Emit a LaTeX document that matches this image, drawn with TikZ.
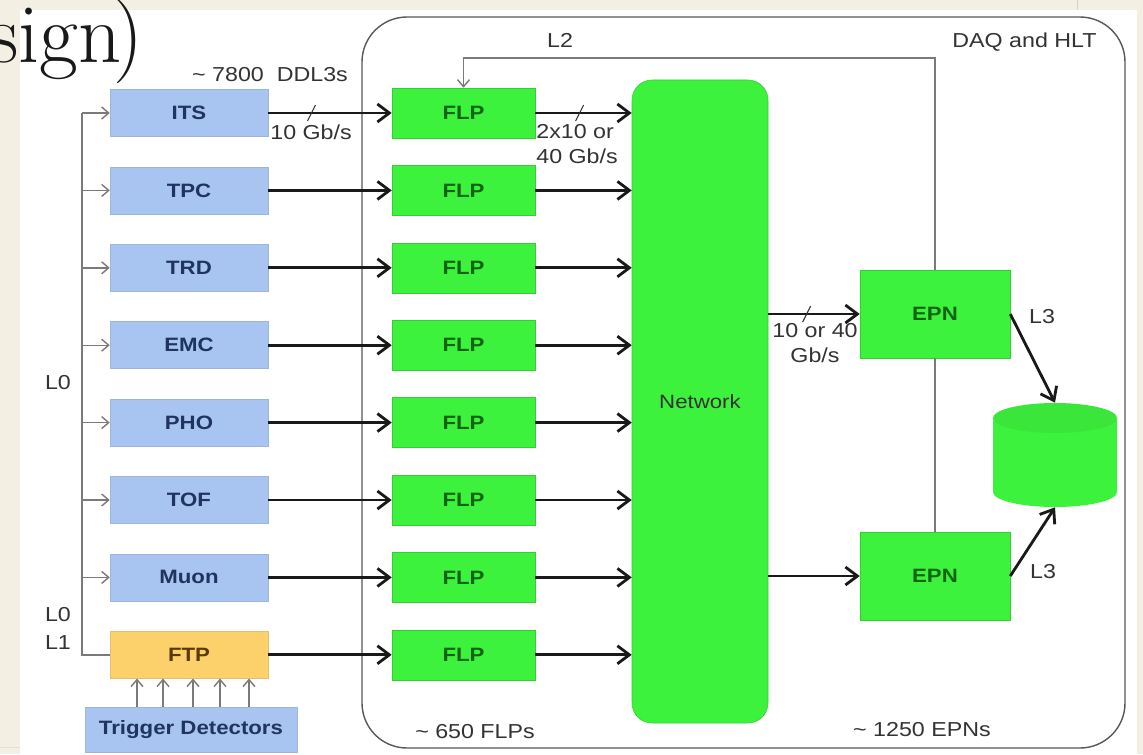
\documentclass[tikz,border=0pt]{standalone}
\usepackage{fontspec}
\newfontfamily\diagfont[FakeStretch=1.15]{Liberation Sans}
\usepackage{tikz}
\usetikzlibrary{calc,positioning,arrows.meta}

\definecolor{slidebg}{HTML}{F3EFE3}
\definecolor{detblue}{HTML}{A8C4F0}
\definecolor{dettext}{HTML}{1F3560}
\definecolor{ftporange}{HTML}{FCD06A}
\definecolor{ftptext}{HTML}{5A3B05}
\definecolor{flpgreen}{HTML}{3CF23C}
\definecolor{flptext}{HTML}{126412}
\definecolor{trigline}{HTML}{7A7A7A}
\definecolor{labeltext}{HTML}{333333}

\tikzset{
  detbox/.style={fill=detblue, draw=detblue!80!gray, line width=0.3pt, minimum width=31.6mm, minimum height=9.4mm, inner sep=0pt, text=dettext, font=\diagfont\bfseries\fontsize{11}{14}\selectfont},
  ftpbox/.style={detbox, fill=ftporange, draw=ftporange!80!gray, text=ftptext},
  flpbox/.style={fill=flpgreen, draw=flpgreen!85!black, line width=0.3pt, minimum width=28.6mm, minimum height=10mm, inner sep=0pt, text=flptext, font=\diagfont\bfseries\fontsize{11}{14}\selectfont},
  epnbox/.style={flpbox, minimum width=30mm, minimum height=17.6mm},
  netbox/.style={flpbox, minimum width=27.2mm, minimum height=128.6mm, rounded corners=4mm, text=black!80, font=\diagfont\fontsize{11}{14}\selectfont},
  lbl/.style={text=labeltext, inner sep=0pt},
  datalink/.style={line width=1.6pt, black!90, -{Straight Barb[length=2.4mm,width=3.6mm,line width=1.6pt]}},
  triglink/.style={line width=0.8pt, trigline, -{Straight Barb[length=1.4mm,width=2.4mm]}},
  rateslash/.style={line width=0.6pt, black!80}
}

\begin{document}
\begin{tikzpicture}[x=0.2mm,y=-0.2mm,font=\diagfont\fontsize{11.5}{14.5}\selectfont]
				%\draw[color=gray,step=10, help lines,opacity=0.3] (0,0) grid (1143,754); %help grids
				\useasboundingbox (0,0) rectangle (1143,754);
				\fill[slidebg] (0,0) rectangle (1143,754);
				\fill[white] (20,10) rectangle (1137,754);
				\draw[slidebg!88!black, line width=0.3pt] (1077,0) -- (1077,10);
				\draw[black!12, line width=0.5pt] (0,747) -- (20,747);

				% slide title, cut at the left
				\node[anchor=base west, inner sep=0pt, text=black!90, font=\fontsize{48}{48}\selectfont] (title) at (-12,62) {sign\kern-0.1em)};

				% DAQ and HLT frame
				\draw[black!65, line width=0.8pt, rounded corners=9mm] (362,17) rectangle (1125,748);
				\node[lbl, anchor=east] (daq) at (1097,42) {DAQ and HLT};

				% detectors
				\node[detbox] (its) at (189,113) {ITS};
				\node[detbox] (tpc) at (189,190.4) {TPC};
				\node[detbox] (trd) at (189,267.8) {TRD};
				\node[detbox] (emc) at (189,345.2) {EMC};
				\node[detbox] (pho) at (189,422.6) {PHO};
				\node[detbox] (tof) at (189,500) {TOF};
				\node[detbox] (muon) at (189,577.4) {Muon};
				\node[ftpbox] (ftp) at (189,654.8) {FTP};
				\node[detbox, minimum width=42.4mm, minimum height=9mm] (trig) at (191,729.5) {Trigger Detectors};

				\node[lbl] (ddl) at (270,75) {\textasciitilde\ 7800\ \ DDL3s};

				% FLPs
				\node[flpbox] (flp1) at (463.5,113) {FLP};
				\node[flpbox] (flp2) at (463.5,190.4) {FLP};
				\node[flpbox] (flp3) at (463.5,267.8) {FLP};
				\node[flpbox] (flp4) at (463.5,345.2) {FLP};
				\node[flpbox] (flp5) at (463.5,422.6) {FLP};
				\node[flpbox] (flp6) at (463.5,500) {FLP};
				\node[flpbox] (flp7) at (463.5,577.4) {FLP};
				\node[flpbox] (flp8) at (463.5,654.8) {FLP};
				\node[lbl] (nflp) at (475,732) {\textasciitilde\ 650 FLPs};

				\node[netbox] (net) at (700,401.5) {Network};

				% EPNs and storage
				\node[epnbox] (epn1) at (935,314) {EPN};
				\node[epnbox] (epn2) at (935,576) {EPN};
				\node[lbl] (nepn) at (922,730) {\textasciitilde\ 1250 EPNs};

				\fill[flpgreen] (993,418) rectangle (1117,492);
				\fill[flpgreen] (1055,492) ellipse [x radius=62, y radius=15];
				\fill[flpgreen!95!black] (1055,418) ellipse [x radius=62, y radius=15];
				\node[minimum width=24.8mm, minimum height=20.8mm, inner sep=0pt] (disk) at (1055,455) {};

				% trigger lines L0 / L1
				\coordinate (bus) at (82,113);
				\draw[trigline, line width=0.8pt] (ftp.west) -- (ftp.west -| bus) -- (bus);
				\draw[triglink] (its.west -| bus) -- (its.west);
				\draw[triglink] (tpc.west -| bus) -- (tpc.west);
				\draw[triglink] (trd.west -| bus) -- (trd.west);
				\draw[triglink] (emc.west -| bus) -- (emc.west);
				\draw[triglink] (pho.west -| bus) -- (pho.west);
				\draw[triglink] (tof.west -| bus) -- (tof.west);
				\draw[triglink] (muon.west -| bus) -- (muon.west);
				\foreach \x in {137,163,193,220,249}
					\draw[triglink] (trig.north -| \x,0) -- (ftp.south -| \x,0);
				\node[lbl] (l0a) at (58,383) {L0};
				\node[lbl] (l0b) at (58,615) {L0};
				\node[lbl] (l1) at (58,643) {L1};

				% detector links
				\draw[datalink] (its) -- coordinate[pos=0.35] (s1) (flp1);
				\draw[datalink] (tpc) -- (flp2);
				\draw[datalink] (trd) -- (flp3);
				\draw[datalink] (emc) -- (flp4);
				\draw[datalink] (pho) -- (flp5);
				\draw[datalink] (tof) -- (flp6);
				\draw[datalink] (muon) -- (flp7);
				\draw[datalink] (ftp) -- (flp8);
				\draw[rateslash] ($(s1)+(-4,8)$) -- ($(s1)+(4,-8)$);
				\node[lbl, anchor=west] (r1) at (270,132) {10 Gb/s};

				% FLP to network
				\draw[datalink] (flp1.east) -- coordinate[pos=0.46] (s2) (flp1.east -| net.west);
				\draw[datalink] (flp2.east) -- (flp2.east -| net.west);
				\draw[datalink] (flp3.east) -- (flp3.east -| net.west);
				\draw[datalink] (flp4.east) -- (flp4.east -| net.west);
				\draw[datalink] (flp5.east) -- (flp5.east -| net.west);
				\draw[datalink] (flp6.east) -- (flp6.east -| net.west);
				\draw[datalink] (flp7.east) -- (flp7.east -| net.west);
				\draw[datalink] (flp8.east) -- (flp8.east -| net.west);
				\draw[rateslash] ($(s2)+(-4,8)$) -- ($(s2)+(4,-8)$);
				\node[lbl, anchor=north west, align=left] (r2) at (536,124) {2x10 or\\40 Gb/s};

				% network to EPNs
				\draw[datalink] (epn1.west -| net.east) -- coordinate[pos=0.42] (s3) (epn1.west);
				\draw[datalink] (epn2.west -| net.east) -- (epn2.west);
				\draw[rateslash] ($(s3)+(-4,8)$) -- ($(s3)+(4,-8)$);
				\node[lbl, anchor=north, align=center] (r3) at (815,323) {10 or 40\\Gb/s};

				% L3 to storage
				\draw[datalink] (epn1.east) -- (disk.north);
				\draw[datalink] (epn2.east) -- (disk.south);
				\node[lbl] (l3a) at (1042,317) {L3};
				\node[lbl] (l3b) at (1043,572) {L3};

				% L2 feedback
				\coordinate (l2top) at (700,58);
				\draw[trigline, line width=0.8pt, -{Straight Barb[length=1.4mm,width=2.4mm]}] (epn1.north) |- (l2top) -| (flp1.north);
				\draw[trigline, line width=0.8pt] (epn1.south) -- (epn2.north);
				\node[lbl] (l2) at (560,40) {L2};
\end{tikzpicture}
\end{document}
